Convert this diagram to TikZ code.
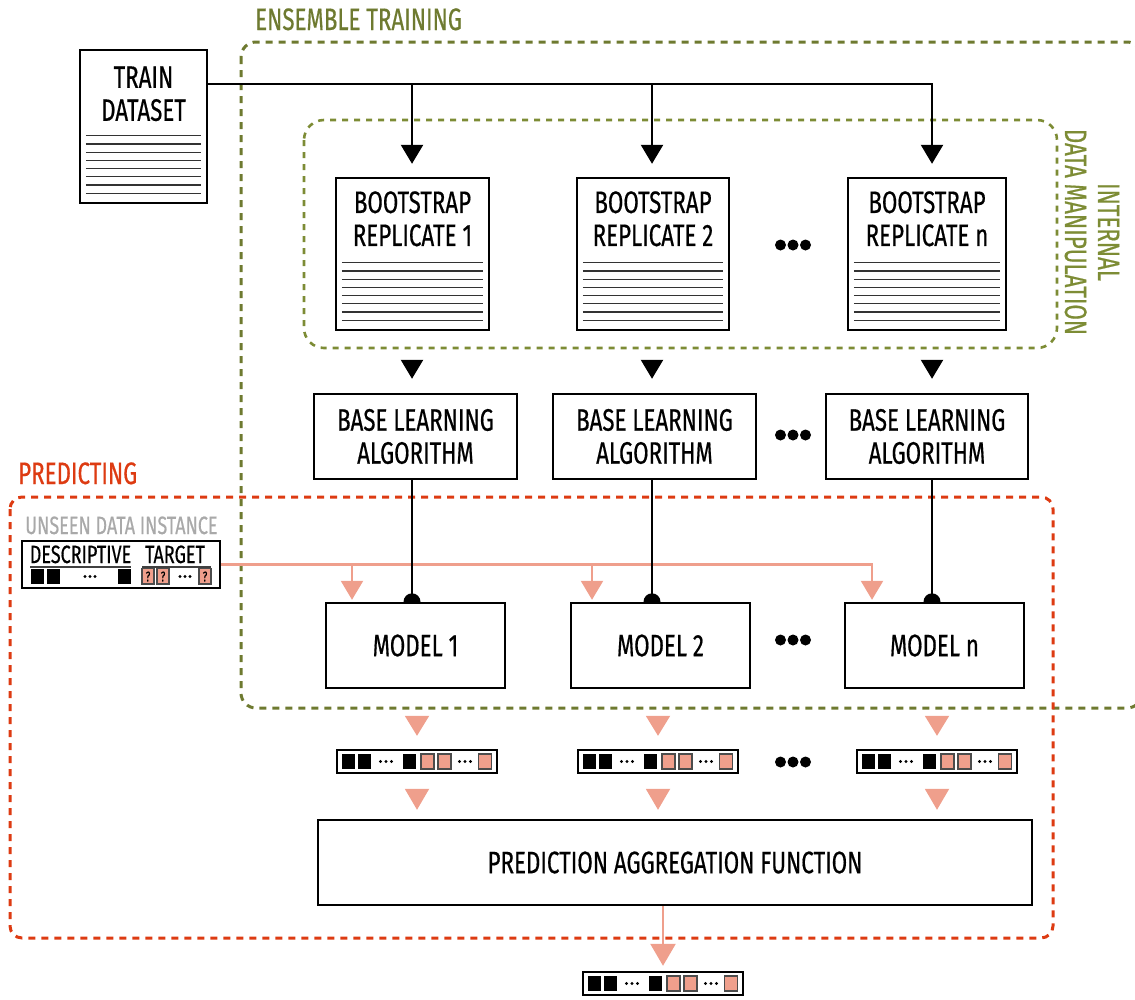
\documentclass[tikz,border=0pt]{standalone}
\usepackage{fontspec}
\setmainfont{Fira Sans}[FakeStretch=0.72, FakeBold=0.5]
\usetikzlibrary{arrows.meta,positioning,calc}

\definecolor{ensgreen}{HTML}{6E7A30}
\definecolor{intgreen}{HTML}{7D8C35}
\definecolor{predred}{HTML}{DD3B12}
\definecolor{predsalmon}{HTML}{EF9F8C}
\definecolor{unseengray}{HTML}{A9A9A9}

\newcommand{\mainlab}{\fontsize{31}{33}\selectfont}

% ruled lines of a document box
\newcommand{\docrules}[1]{%
  \foreach \k in {0,...,7}{%
    \draw[docrule] ($(#1.south west)+(7,-11-8.2*\k)$) -- ($(#1.south east)+(-7,-11-8.2*\k)$);}}

% cells of one prediction row
\newcommand{\rowcells}[1]{%
  \begin{scope}[shift={(#1.center)}]
    \foreach \xx in {-68.5,-52.5,-7.5} \fill (\xx-6.5,-7.5) rectangle (\xx+6.5,7.5);
    \foreach \xx in {10.5,27.5,68} \draw[targetcell] (\xx-6.5,-7.5) rectangle (\xx+6.5,7.5);
    \foreach \xx in {-31,48} \foreach \dd in {-5.5,0,5.5} \fill (\xx+\dd,0) circle (1.7);
  \end{scope}}

\tikzset{
  procbox/.style={draw, line width=2.4pt, fill=white, inner sep=0pt, align=center, font=\mainlab},
  docbox/.style={draw, line width=2.4pt, fill=white, inner sep=0pt},
  doctitle/.style={align=center, inner sep=0pt, font=\mainlab},
  docrule/.style={line width=1.3pt, black!80},
  rowbox/.style={draw, line width=2.4pt, fill=white, minimum width=160, minimum height=23, inner sep=0pt},
  targetcell/.style={fill=predsalmon, draw=black!70, line width=1.1pt},
  enscontainer/.style={draw=ensgreen, line width=3pt, dash pattern=on 7pt off 6pt, rounded corners=15pt},
  intcontainer/.style={draw=intgreen, line width=2.6pt, dash pattern=on 6pt off 6pt, rounded corners=20pt},
  predcontainer/.style={draw=predred, line width=3pt, dash pattern=on 7pt off 6pt, rounded corners=12pt},
  feedline/.style={line width=2.4pt, -{Triangle[width=22pt,length=19pt]}, shorten >=13pt},
  blacktip/.style={line width=2.4pt, -{Triangle[width=22pt,length=19pt]}, shorten >=14pt, shorten <=31pt},
  modelline/.style={line width=2.4pt},
  salmonline/.style={predsalmon, line width=2.3pt, -{Triangle[width=22pt,length=19pt]}, shorten >=2pt},
  salmontip/.style={predsalmon, line width=2pt, -{Triangle[width=24pt,length=20pt]}, shorten >=13pt, shorten <=29pt},
  salmontiptwo/.style={predsalmon, line width=2pt, -{Triangle[width=24pt,length=21pt]}, shorten >=9pt, shorten <=17pt},
  finalarrow/.style={predsalmon, line width=2.5pt, -{Triangle[width=25pt,length=22pt]}, shorten >=5pt}
}

\begin{document}
\begin{tikzpicture}[x=1pt, y=-1pt]
\useasboundingbox (0,0) rectangle (1135,999);
\clip (0,0) rectangle (1135,999);

% containers
\draw[enscontainer] (241,42) rectangle (1142,708);
\draw[intcontainer] (304,120) rectangle (1057,348);
\draw[predcontainer] (10,497) rectangle (1053,938);
\node[ensgreen, font=\mainlab, anchor=base west, inner sep=0pt] (enstitle) at (255,30) {ENSEMBLE TRAINING};
\node[intgreen, font=\mainlab, align=center, rotate=-90, inner sep=0pt] (inttitle) at (1092,232) {INTERNAL\\DATA MANIPULATION};
\node[predred, font=\mainlab, anchor=base west, inner sep=0pt] (predtitle) at (18,484) {PREDICTING};

% columns
\coordinate (c1) at (412,0);
\coordinate (c2) at (652,0);
\coordinate (c3) at (932,0);
\coordinate (d1) at (352,0);
\coordinate (d2) at (592,0);
\coordinate (d3) at (872,0);

% train dataset
\node[docbox, minimum width=127, minimum height=153] (train) at (143.5,126.5) {};
\node[doctitle] (trainlab) at ($(train.north)+(0,45)$) {TRAIN\\DATASET};
\docrules{train}

% bootstrap replicates
\node[docbox, minimum width=153, minimum height=152] (boot1) at (412.5,254) {};
\node[docbox, minimum width=152, minimum height=152] (boot2) at (653,254) {};
\node[docbox, minimum width=158, minimum height=152] (boot3) at (927,254) {};
\node[doctitle] (boot1lab) at ($(boot1.north)+(0,42)$) {BOOTSTRAP\\REPLICATE 1};
\node[doctitle] (boot2lab) at ($(boot2.north)+(0,42)$) {BOOTSTRAP\\REPLICATE 2};
\node[doctitle] (boot3lab) at ($(boot3.north)+(0,42)$) {BOOTSTRAP\\REPLICATE n};
\docrules{boot1}
\docrules{boot2}
\docrules{boot3}

% base learners
\node[procbox, minimum width=203, minimum height=85] (base1) at (415.5,436.5) {BASE LEARNING\\ALGORITHM};
\node[procbox, minimum width=203, minimum height=85] (base2) at (654.5,436.5) {BASE LEARNING\\ALGORITHM};
\node[procbox, minimum width=202, minimum height=85] (base3) at (927,436.5) {BASE LEARNING\\ALGORITHM};

% models
\node[procbox, minimum width=179, minimum height=85] (model1) at (415.5,645.5) {MODEL 1};
\node[procbox, minimum width=179, minimum height=85] (model2) at (660.5,645.5) {MODEL 2};
\node[procbox, minimum width=179, minimum height=85] (model3) at (934.5,645.5) {MODEL n};

% prediction rows
\node[rowbox] (row1) at (417,761.5) {};
\node[rowbox] (row2) at (658,761.5) {};
\node[rowbox] (row3) at (937,761.5) {};
\node[procbox, minimum width=714, minimum height=85] (agg) at (675,862.5) {PREDICTION AGGREGATION FUNCTION};
\node[rowbox] (out) at (663,983.5) {};
\rowcells{row1}
\rowcells{row2}
\rowcells{row3}
\rowcells{out}

% unseen instance
\node[unseengray, font=\fontsize{25}{27}\selectfont, anchor=base west, inner sep=0pt] (unseenlab) at (25,534) {UNSEEN DATA INSTANCE};
\node[draw, line width=2.4pt, fill=white, minimum width=198, minimum height=47, inner sep=0pt] (unseen) at (121,564.5) {};
\node[font=\fontsize{25}{27}\selectfont, anchor=base, inner sep=0pt] (desc) at ($(unseen.center)+(-40.5,-1.5)$) {DESCRIPTIVE};
\node[font=\fontsize{25}{27}\selectfont, anchor=base, inner sep=0pt] (targ) at ($(unseen.center)+(54,-1.5)$) {TARGET};
\begin{scope}[shift={(unseen.center)}]
  \draw[line width=2pt, black!75] (-91,2.5) -- (10,2.5);
  \draw[line width=2pt, black!75] (21,2.5) -- (90,2.5);
  \foreach \xx in {-83.5,-67.5,3.5} \fill (\xx-6.5,4) rectangle (\xx+6.5,19.5);
  \foreach \xx in {27,42,84} {
    \draw[targetcell] (\xx-6,4) rectangle (\xx+6,19.5);
    \node[font=\fontsize{14}{14}\selectfont, inner sep=0pt] at (\xx,12) {?};}
  \foreach \xx in {-31,64} \foreach \dd in {-5,0,5} \fill (\xx+\dd,12) circle (1.6);
\end{scope}

% ellipsis dots
\foreach \yy in {245,435,640,762} \foreach \i in {-1,0,1} \fill (793+12.5*\i,\yy) circle (5.5);

% salmon connectors
\draw[salmonline] (unseen.east) -| (d3 |- model3.north);
\foreach \i in {1,2} \draw[salmonline] (d\i |- unseen.east) -- (d\i |- model\i.north);
\foreach \i in {1,2,3} {
  \draw[salmontip] (row\i |- model\i.south) -- (row\i.north);
  \draw[salmontiptwo] (row\i.south) -- (row\i |- agg.north);
}
\draw[finalarrow] (out |- agg.south) -- (out.north);

% black connectors
\coordinate (split) at (train.east |- 0,84);
\draw[feedline] (split) -| (c3 |- boot3.north);
\foreach \i in {1,2} \draw[feedline] (c\i |- split) -- (c\i |- boot\i.north);
\foreach \i in {1,2,3} {
  \draw[blacktip] (c\i |- boot\i.south) -- (c\i |- base\i.north);
  \draw[modelline] (c\i |- base\i.south) -- (c\i |- model\i.north);
  \fill (c\i |- model\i.north) ++(-8.5,0) arc[start angle=180, end angle=360, radius=8.5];
}
\end{tikzpicture}
\end{document}
